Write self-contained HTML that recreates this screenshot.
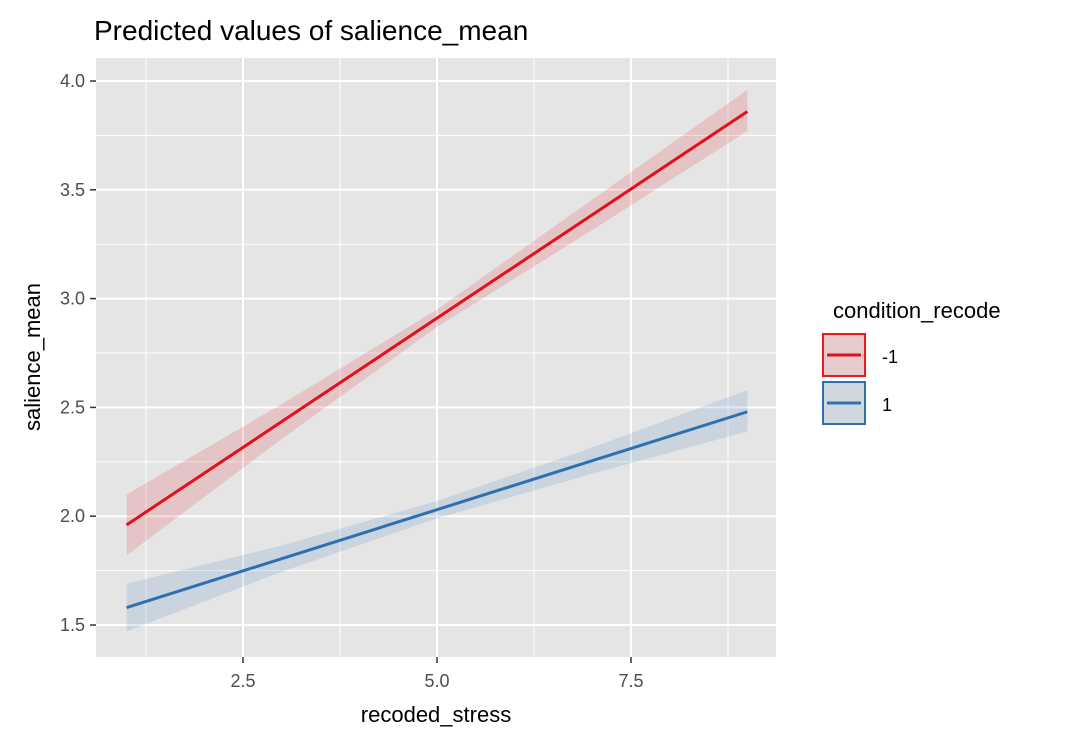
<!DOCTYPE html>
<html><head><meta charset="utf-8"><style>
body{margin:0;background:#fff;font-family:"Liberation Sans",Arial,sans-serif}
</style></head><body>
<svg id="chart" width="1074" height="742" xmlns="http://www.w3.org/2000/svg" font-family="Liberation Sans, Arial, sans-serif">
<text x="94" y="40" font-size="28" fill="#000">Predicted values of salience_mean</text>
<rect x="96" y="58" width="680" height="599" fill="#e5e5e5"/>
<g id="grid"></g>
<g id="ribbons"></g>
<g id="lines"></g>
<g id="axes"></g>
<text x="436" y="722" font-size="22" text-anchor="middle">recoded_stress</text>
<text transform="translate(40,357) rotate(-90)" font-size="22" text-anchor="middle">salience_mean</text>
<g>
<text x="833" y="318" font-size="22">condition_recode</text>
<g>
<rect x="823" y="334" width="42" height="42" fill="#e5e5e5"/>
<rect x="823" y="334" width="42" height="42" fill="rgba(228,26,28,0.12)" stroke="#e41a1c" stroke-width="2"/>
<line x1="827" y1="355" x2="861" y2="355" stroke="#e0101e" stroke-width="3"/>
<text x="882" y="363" font-size="18">-1</text></g>
<g>
<rect x="823" y="382" width="42" height="42" fill="#e5e5e5"/>
<rect x="823" y="382" width="42" height="42" fill="rgba(55,126,184,0.12)" stroke="#2f6fb0" stroke-width="2"/>
<line x1="827" y1="403" x2="861" y2="403" stroke="#2f6fb0" stroke-width="3"/>
<text x="882" y="411" font-size="18">1</text></g>
</g>
</svg>
<script>
const xs=[1,3,5,7,9];
const redFit=[1.96,2.435,2.91,3.385,3.86];
const redLow=[1.82,2.355,2.87,3.315,3.77];
const redHigh=[2.10,2.515,2.95,3.455,3.96];
const blueFit=[1.58,1.805,2.03,2.255,2.48];
const blueLow=[1.47,1.745,1.99,2.195,2.39];
const blueHigh=[1.69,1.865,2.07,2.315,2.58];
const xTicks=[2.5,5.0,7.5];
const xTickLabels=["2.5","5.0","7.5"];
const yTicks=[1.5,2.0,2.5,3.0,3.5,4.0];
const yTickLabels=["1.5","2.0","2.5","3.0","3.5","4.0"];
const X=v=>243+(v-2.5)*77.6;
const Y=v=>625-(v-1.5)*217.6;
const NS="http://www.w3.org/2000/svg";
function mk(p,t,a){const e=document.createElementNS(NS,t);for(const k in a)e.setAttribute(k,a[k]);document.getElementById(p).appendChild(e);return e;}
const minor=[1.25,3.75,6.25,8.75];
minor.forEach(v=>{const e=mk('grid','line',{x1:X(v),x2:X(v),y1:58,y2:657,stroke:'#fff','stroke-width':1});

});
[1.75,2.25,2.75,3.25,3.75].forEach(v=>{const e=mk('grid','line',{x1:96,x2:776,y1:Y(v),y2:Y(v),stroke:'#fff','stroke-width':1});

});
xTicks.forEach((v,i)=>{const e=mk('grid','line',{x1:X(v),x2:X(v),y1:58,y2:657,stroke:'#fff','stroke-width':2});


const t=mk('axes','line',{x1:X(v),x2:X(v),y1:657,y2:663,stroke:'#333','stroke-width':1.5});


const l=mk('axes','text',{x:X(v),y:687,'font-size':18,fill:'#4d4d4d','text-anchor':'middle'});l.textContent=xTickLabels[i];

});
yTicks.forEach((v,i)=>{const e=mk('grid','line',{x1:96,x2:776,y1:Y(v),y2:Y(v),stroke:'#fff','stroke-width':2});


const t=mk('axes','line',{x1:90,x2:96,y1:Y(v),y2:Y(v),stroke:'#333','stroke-width':1.5});


const l=mk('axes','text',{x:85,y:Y(v)+6,'font-size':18,fill:'#4d4d4d','text-anchor':'end'});l.textContent=yTickLabels[i];

});
function series(fit,lo,hi,col,fill,name){
let d='M'+xs.map((x,i)=>X(x)+','+Y(hi[i])).join('L')+'L'+xs.slice().reverse().map((x,j)=>X(x)+','+Y(lo[xs.length-1-j])).join('L')+'Z';
const r=mk('ribbons','path',{d:d,fill:fill});


const p=mk('lines','polyline',{points:xs.map((x,i)=>X(x)+','+Y(fit[i])).join(' '),fill:'none',stroke:col,'stroke-width':3});

}
series(redFit,redLow,redHigh,'#e0101e','rgba(228,26,28,0.16)','condition-neg1');
series(blueFit,blueLow,blueHigh,'#2f6fb0','rgba(55,126,184,0.16)','condition-1');
</script>
</body></html>
